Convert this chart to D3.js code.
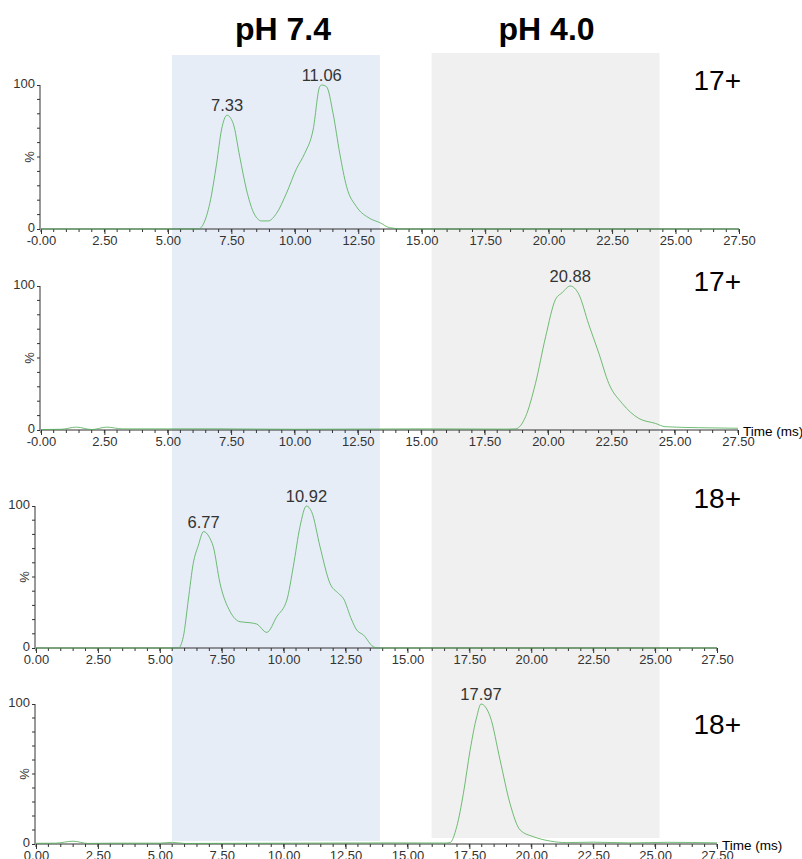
<!doctype html>
<html lang="en">
  <head>
    <meta charset="utf-8">
    <title>Arrival time distributions</title>
    <script src="https://d3js.org/d3.v7.min.js"></script>
    <style>
    body { margin: 0; background: #fff; }
    text { font-family: Arial, "Liberation Sans", sans-serif; }
    .axis path, .axis line { stroke: #333; }
    .axis text { fill: #333; font-size: 13px; }
    </style>
  </head>

  <body>
    <svg width="802" height="859"></svg>

    <script>
      // drift time (ms) and relative intensity (%) for each trace
      var times1 = [0, 6.2, 6.65, 6.92, 7.11, 7.33, 7.57, 7.83, 8.10, 8.36, 8.69, 8.95, 9.28, 9.67, 10.07, 10.39, 10.72, 10.98, 11.06, 11.25, 11.51, 11.77, 12.04, 12.43, 12.95, 13.35, 13.74, 14.3, 27.5];
      var values1 = [0, 0, 17.8, 45.6, 68.8, 79, 73.4, 50.2, 27, 12, 5.6, 5.6, 10.9, 24.8, 42, 52.5, 68.8, 98.8, 100, 98.8, 80, 52.5, 29.4, 15.5, 7.4, 4.4, 0.9, 0, 0];

      var times2 = [0, 0.8, 1.4, 2.0, 2.6, 3.2, 5, 7, 10, 15, 18.4, 18.73, 19.12, 19.51, 19.91, 20.30, 20.56, 20.88, 21.22, 21.61, 22.01, 22.40, 22.93, 23.58, 24.24, 24.63, 25.94, 27.5];
      var values2 = [0.3, 0.5, 2, 0.3, 2, 0.8, 0.8, 0.8, 0.5, 0.8, 0.6, 0.8, 9.3, 32.4, 64.8, 90.7, 95.3, 100, 94.2, 73.4, 53.3, 32.4, 18.5, 8.1, 4.6, 2.3, 1.6, 1.2];

      var times3 = [0, 5.75, 5.95, 6.15, 6.35, 6.55, 6.77, 7.0, 7.16, 7.43, 7.84, 8.24, 8.64, 8.91, 9.32, 9.72, 10.13, 10.39, 10.66, 10.92, 11.13, 11.47, 11.87, 12.21, 12.41, 12.75, 12.95, 13.22, 13.62, 13.8, 27.5];
      var values3 = [0, 0, 8, 33.8, 59.6, 72, 82, 78, 71.3, 45.6, 25.6, 18.5, 17.8, 16.9, 11, 22, 33.8, 57.3, 85.4, 100, 96, 71.3, 45.6, 38.5, 35, 19.7, 12.7, 9.2, 0.9, 0, 0];

      var times4 = [0, 0.8, 1.5, 2.1, 3, 5, 5.5, 6, 10, 14, 16.5, 16.72, 16.99, 17.26, 17.53, 17.80, 17.97, 18.34, 18.74, 19.14, 19.55, 20.09, 20.76, 21.43, 22.5, 24, 25.5, 27.5];
      var values4 = [0.5, 0.6, 2, 0.4, 0.6, 0.6, 1.2, 0.4, 0.6, 0.8, 0.7, 1, 12.4, 36.2, 67, 91, 100, 91, 60, 29, 10, 5.2, 2.1, 1, 1.3, 0.8, 1.2, 0.8];

      // labelled peak apexes
      var peaks1 = [7.33, 11.06];
      var peaks2 = [20.88];
      var peaks3 = [6.77, 10.92];
      var peaks4 = [17.97];

      var chargeLabels = ['17+', '17+', '18+', '18+'];
      var phLabels = ['pH 7.4', 'pH 4.0'];
      // shaded pH windows in ms (on the top trace's time axis)
      var phStart = [5.16, 15.39];
      var phEnd = [13.35, 24.37];

      var xTicks = d3.range(0, 27.51, 2.5);
      var yTicks = [0, 100];

      var svg = d3.select('svg');

      var layout = [
        { x0: 41, x1: 739, top: 85, bottom: 229, neg: true, timeLabel: false, chargeY: 90 },
        { x0: 41, x1: 738, top: 286, bottom: 430, neg: true, timeLabel: true, chargeY: 291 },
        { x0: 36, x1: 717, top: 506, bottom: 648, neg: false, timeLabel: false, chargeY: 508 },
        { x0: 36, x1: 717, top: 704, bottom: 844, neg: false, timeLabel: true, chargeY: 734 }
      ];
      var traces = [[times1, values1, peaks1], [times2, values2, peaks2], [times3, values3, peaks3], [times4, values4, peaks4]];

      // background bands first
      var bandScale = d3.scaleLinear().domain([0, 27.5]).range([layout[0].x0, layout[0].x1]);
      var bandColors = ['#e6edf7', '#f0f0f0'];
      var bandTop = [55, 53];
      var bandBottom = [841, 838];
      var titleShift = [7, 1];
      phLabels.forEach(function(lbl, i) {
        svg.append('rect')
          .attr('x', bandScale(phStart[i]))
          .attr('y', bandTop[i])
          .attr('width', bandScale(phEnd[i]) - bandScale(phStart[i]))
          .attr('height', bandBottom[i] - bandTop[i])
          .attr('fill', bandColors[i]);
        svg.append('text')
          .attr('x', (bandScale(phStart[i]) + bandScale(phEnd[i])) / 2 + titleShift[i])
          .attr('y', 40)
          .attr('text-anchor', 'middle')
          .style('font-size', '32px')
          .style('font-weight', 'bold')
          .text(lbl);
      });

      layout.forEach(function(p, k) {
        var data = traces[k];
        var x = d3.scaleLinear().domain([0, 27.5]).range([p.x0, p.x1]);
        var y = d3.scaleLinear().domain([0, 100]).range([p.bottom, p.top]);

        var xAxis = d3.axisBottom(x)
          .tickValues(xTicks)
          .tickSize(5)
          .tickPadding(2)
          .tickFormat(function(d, i) { return (p.neg && i === 0) ? '-0.00' : d.toFixed(2); });
        var gx = svg.append('g').attr('class', 'axis')
          .attr('transform', 'translate(0,' + p.bottom + ')')
          .call(xAxis);
        gx.select('.domain').attr('d', 'M' + p.x0 + ',0H' + p.x1);
        gx.selectAll('.minor').data(d3.range(0, 27.51, 0.5)).enter()
          .append('line')
          .attr('x1', x).attr('x2', x)
          .attr('y1', 0).attr('y2', 3);

        var yAxis = d3.axisLeft(y).tickValues(yTicks).tickSize(3).tickPadding(2);
        var gy = svg.append('g').attr('class', 'axis')
          .attr('transform', 'translate(' + (p.x0 - 1) + ',0)')
          .call(yAxis);
        gy.select('.domain').attr('d', 'M0,' + p.top + 'V' + p.bottom);
        gy.selectAll('.tick text').attr('dy', '0.22em');
        gy.selectAll('.minor').data(d3.range(10, 100, 10)).enter()
          .append('line')
          .attr('x1', -3).attr('x2', 0)
          .attr('y1', y).attr('y2', y);
        gy.append('text')
          .attr('transform', 'translate(-6,' + y(50) + ') rotate(-90)')
          .attr('text-anchor', 'middle')
          .style('font-size', '13px')
          .text('%');

        var line = d3.line()
          .x(function(d, i) { return x(data[0][i]); })
          .y(function(d) { return y(d); })
          .curve(d3.curveMonotoneX);
        svg.append('path')
          .datum(data[1])
          .attr('d', line)
          .attr('fill', 'none')
          .attr('stroke', '#4fae52')
          .attr('stroke-opacity', 0.8)
          .attr('stroke-width', 1);

        data[2].forEach(function(t) {
          var idx = d3.minIndex(data[0], function(v) { return Math.abs(v - t); });
          svg.append('text')
            .attr('x', x(t))
            .attr('y', y(data[1][idx]) - 4)
            .attr('text-anchor', 'middle')
            .style('font-size', '16.5px')
            .attr('fill', '#333')
            .text(t.toFixed(2));
        });

        svg.append('text')
          .attr('x', 741)
          .attr('y', p.chargeY)
          .attr('text-anchor', 'end')
          .style('font-size', '28px')
          .text(chargeLabels[k]);

        if (p.timeLabel) {
          svg.append('text')
            .attr('x', p.x1 + 5)
            .attr('y', p.bottom + 6)
            .style('font-size', '13.5px')
            .text('Time (ms)');
        }
      });
    </script>
  </body>
</html>
